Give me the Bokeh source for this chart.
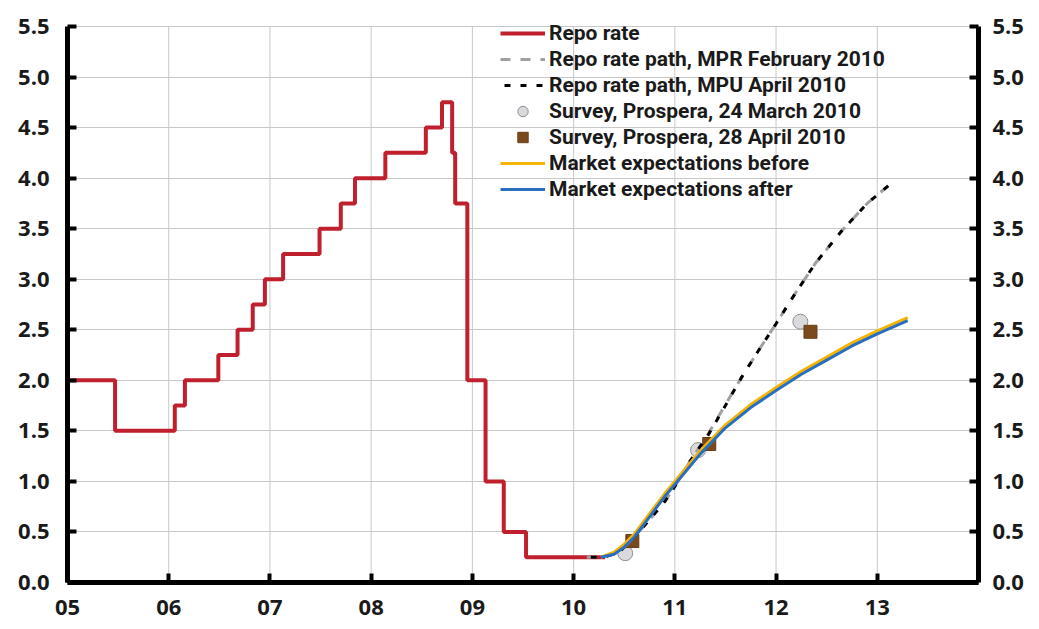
from bokeh.plotting import figure
from bokeh.models import (FixedTicker, PrintfTickFormatter, LinearAxis, Legend,
                          LegendItem, Range1d)
from bokeh.embed import file_html
from bokeh.resources import INLINE

# ---------------- data ----------------
repo_dates = [2005.0, 2005.47, 2006.06, 2006.16, 2006.49, 2006.68, 2006.83, 2006.95,
              2007.13, 2007.49, 2007.70, 2007.84, 2008.14, 2008.54, 2008.70, 2008.80,
              2008.83, 2008.95, 2009.13, 2009.31, 2009.53, 2010.31]
repo_rates = [2.0, 1.5, 1.75, 2.0, 2.25, 2.5, 2.75, 3.0,
              3.25, 3.5, 3.75, 4.0, 4.25, 4.5, 4.75, 4.25,
              3.75, 2.0, 1.0, 0.5, 0.25, 0.25]

mpr_dates = [2010.13, 2010.3, 2010.45, 2010.6, 2010.75, 2010.9, 2011.0, 2011.15, 2011.33,
             2011.5, 2011.66, 2011.83, 2012.0, 2012.19, 2012.39, 2012.65, 2012.9, 2013.14]
mpr_rates = [0.25, 0.25, 0.30, 0.45, 0.62, 0.80, 0.95, 1.20, 1.47,
             1.76, 2.03, 2.30, 2.56, 2.86, 3.16, 3.48, 3.75, 3.95]

mpu_dates = [2010.13, 2010.3, 2010.45, 2010.6, 2010.75, 2010.9, 2011.0, 2011.15, 2011.33,
             2011.5, 2011.66, 2011.83, 2012.0, 2012.19, 2012.39, 2012.65, 2012.9, 2013.14]
mpu_rates = [0.25, 0.25, 0.30, 0.45, 0.62, 0.80, 0.95, 1.20, 1.46,
             1.75, 2.03, 2.30, 2.56, 2.86, 3.16, 3.48, 3.75, 3.95]

survey_mar_dates = [2010.51, 2011.23, 2012.24]
survey_mar_rates = [0.29, 1.31, 2.58]
survey_apr_dates = [2010.58, 2011.34, 2012.34]
survey_apr_rates = [0.41, 1.37, 2.48]

mkt_before_dates = [2010.27, 2010.4, 2010.5, 2010.6, 2010.75, 2010.9, 2011.0, 2011.25,
                    2011.5, 2011.75, 2012.0, 2012.25, 2012.5, 2012.75, 2013.0, 2013.3]
mkt_before_rates = [0.25, 0.30, 0.38, 0.48, 0.68, 0.88, 1.00, 1.30,
                    1.56, 1.76, 1.93, 2.09, 2.23, 2.37, 2.49, 2.62]
mkt_after_dates = [2010.27, 2010.4, 2010.5, 2010.6, 2010.75, 2010.9, 2011.0, 2011.25,
                   2011.5, 2011.75, 2012.0, 2012.25, 2012.5, 2012.75, 2013.0, 2013.3]
mkt_after_rates = [0.25, 0.28, 0.35, 0.45, 0.65, 0.85, 0.97, 1.27,
                   1.53, 1.73, 1.90, 2.06, 2.20, 2.34, 2.46, 2.59]

x_ticks = [2005, 2006, 2007, 2008, 2009, 2010, 2011, 2012, 2013]
x_tick_labels = ["05", "06", "07", "08", "09", "10", "11", "12", "13"]
y_ticks = [0.0, 0.5, 1.0, 1.5, 2.0, 2.5, 3.0, 3.5, 4.0, 4.5, 5.0, 5.5]

X_MIN, X_MAX = 2005, 2014
Y_MIN, Y_MAX = 0.0, 5.5

# ---------------- figure ----------------
FONT = "Open Sans"
LEGEND_FONT = "Roboto"
W, H = 1039, 629
B_LEFT, B_RIGHT, B_TOP, B_BOTTOM = 67, 61, 0, 47
TOP_PAD_PX = 26                     # white space above the 5.5 line
frame_h = H - B_TOP - B_BOTTOM
y_end = Y_MAX * frame_h / (frame_h - TOP_PAD_PX)

p = figure(width=W, height=H, x_range=Range1d(X_MIN, X_MAX), y_range=Range1d(Y_MIN, y_end),
           output_backend="svg", toolbar_location=None,
           min_border_left=B_LEFT, min_border_right=B_RIGHT,
           min_border_top=B_TOP, min_border_bottom=B_BOTTOM)
p.outline_line_color = None
p.background_fill_color = "white"

# horizontal grid from the axis ticker; vertical grid drawn only up to 5.5
p.xgrid.visible = False
p.ygrid.ticker = FixedTicker(ticks=y_ticks)
p.ygrid.grid_line_color = "#c8c8c8"
p.ygrid.grid_line_width = 1
p.segment(x0=x_ticks[1:], y0=[Y_MIN] * (len(x_ticks) - 1),
          x1=x_ticks[1:], y1=[Y_MAX] * (len(x_ticks) - 1),
          line_color="#c8c8c8", line_width=1)

right_axis = LinearAxis()
p.add_layout(right_axis, "right")

for ax in (p.yaxis[0], right_axis):
    ax.ticker = FixedTicker(ticks=y_ticks)
    ax.formatter = PrintfTickFormatter(format="%.1f")
    ax.bounds = (Y_MIN, Y_MAX)

xa = p.xaxis[0]
xa.ticker = FixedTicker(ticks=x_ticks)
xa.major_label_overrides = {t: l for t, l in zip(x_ticks, x_tick_labels)}

for ax in (xa, p.yaxis[0], right_axis):
    ax.axis_line_width = 5
    ax.axis_line_color = "black"
    ax.major_tick_in = 9
    ax.major_tick_out = 0
    ax.major_tick_line_width = 4
    ax.major_tick_line_color = "black"
    ax.minor_tick_line_color = None
    ax.major_label_text_font = FONT
    ax.major_label_text_font_size = "22px"
    ax.major_label_text_font_style = "bold"
    ax.major_label_text_color = "#1a1a1a"
xa.major_label_standoff = 17
p.yaxis[0].major_label_standoff = 18
right_axis.major_label_standoff = 14

# ---------------- glyphs ----------------
r_repo = p.step(repo_dates, repo_rates, mode="after", line_color="#c0202e", line_width=4)
r_mar = p.scatter(survey_mar_dates, survey_mar_rates, marker="circle", size=15,
                  fill_color="#d9d9de", line_color="#909090", line_width=1)
r_apr = p.scatter(survey_apr_dates, survey_apr_rates, marker="square", size=13,
                  fill_color="#7a4a1c", line_color="#6a3e16", line_width=1)
r_mpr = p.line(mpr_dates, mpr_rates, line_color="#a0a0a0", line_width=3, line_dash="10 10")
r_mpu = p.line(mpu_dates, mpu_rates, line_color="black", line_width=3, line_dash="6 10",
               line_dash_offset=12)
r_before = p.line(mkt_before_dates, mkt_before_rates, line_color="#f5b400", line_width=3)
r_after = p.line(mkt_after_dates, mkt_after_rates, line_color="#2a6fbf", line_width=3)

legend = Legend(items=[
    LegendItem(label="Repo rate", renderers=[r_repo]),
    LegendItem(label="Repo rate path, MPR February 2010", renderers=[r_mpr]),
    LegendItem(label="Repo rate path, MPU April 2010", renderers=[r_mpu]),
    LegendItem(label="Survey, Prospera, 24 March 2010", renderers=[r_mar]),
    LegendItem(label="Survey, Prospera, 28 April 2010", renderers=[r_apr]),
    LegendItem(label="Market expectations before", renderers=[r_before]),
    LegendItem(label="Market expectations after", renderers=[r_after]),
])
legend.location = (433, 380)
legend.padding = 0
legend.margin = 0
legend.spacing = 0
legend.glyph_width = 45
legend.glyph_height = 26
legend.label_height = 26
legend.label_standoff = 4
legend.border_line_color = None
legend.background_fill_alpha = 0
legend.label_text_font = LEGEND_FONT
legend.label_text_font_size = "21px"
legend.label_text_font_style = "bold"
legend.label_text_color = "#1a1a1a"
p.add_layout(legend, "center")

open("out.html", "w").write(file_html(p, INLINE))
